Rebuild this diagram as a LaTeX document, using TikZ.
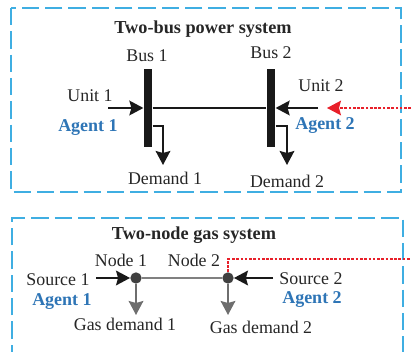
\documentclass[tikz,border=0pt]{standalone}
\usepackage{fontspec}
\setmainfont{Liberation Serif}
\usepackage{xcolor}
\usetikzlibrary{arrows.meta, calc}
\definecolor{frameblue}{HTML}{3FAEE2}
\definecolor{agentblue}{HTML}{2E75B6}
\definecolor{linkred}{HTML}{E8202A}
\definecolor{pipegray}{HTML}{6E6E6E}

\begin{document}
\begin{tikzpicture}[x=0.75pt, y=-0.75pt]
    \tikzset{
        system frame/.style={
                draw=frameblue, line width=1.3pt, dash pattern=on 13pt off 4.5pt
            },
        bus bar/.style={
                draw=none, fill=black!90, minimum width=6.5pt, minimum height=59pt, inner sep=0pt
            },
        gas node/.style={
                circle, fill=black!75, minimum size=8.5pt, inner sep=0pt
            },
        label text/.style={
                font=\fontsize{13.4}{15}\selectfont, text=black!85, inner sep=0pt, yshift=-0.75pt
            },
        title text/.style={
                font=\fontsize{13.7}{15}\selectfont\bfseries, text=black!85, inner sep=0pt, yshift=-0.75pt
            },
        agent text/.style={
                font=\fontsize{13.5}{15}\selectfont\bfseries, text=agentblue, inner sep=0pt, yshift=-0.75pt
            },
        power arrow/.style={
                -{Stealth[length=10.5pt, width=11pt, inset=1.5pt]}, line width=1.4pt, draw=black!90
            },
        gas arrow/.style={
                -{Stealth[length=10.5pt, width=11pt, inset=1.5pt]}, line width=1.4pt, draw=pipegray
            },
        link line/.style={
                draw=linkred, line width=1.2pt, dash pattern=on 2pt off 1.2pt
            }
    }
    \useasboundingbox (0,0) rectangle (411,352);

    % Power system
    \draw[system frame] (11,8) rectangle (401,192);
    \node[title text] (power title) at (203,28) {Two-bus power system};
    \node[bus bar] (bus1) at (148,108) {};
    \node[bus bar] (bus2) at (271,108) {};
    \node[label text] (bus1 label) at (147,55) {Bus 1};
    \node[label text] (bus2 label) at (271,52) {Bus 2};
    \node[label text] (unit1) at (90,95) {Unit 1};
    \node[label text] (unit2) at (321,85) {Unit 2};
    \node[agent text] (agent1) at (88,127) {Agent 1};
    \node[agent text] (agent2) at (325,125) {Agent 2};
    \node[label text] (demand1) at (165,177) {Demand 1};
    \node[label text] (demand2) at (287,180) {Demand 2};
    \coordinate (unit1 start) at (108,108);
    \coordinate (unit2 start) at (318,108);
    \coordinate (demand1 end) at (163,165);
    \coordinate (demand2 end) at (287,165);
    \coordinate (power link) at (411,108);
    \coordinate (power tip) at (327,108);

    \draw[line width=1.4pt, draw=black!90] (bus1) -- (bus2);
    \draw[power arrow] (unit1 start) -- (bus1.west |- unit1 start);
    \draw[power arrow] (unit2 start) -- (bus2.east |- unit2 start);
    \draw[power arrow] ($(bus1.east)+(0,18)$) -| (demand1 end);
    \draw[power arrow] ($(bus2.east)+(0,18)$) -| (demand2 end);
    \draw[link line, -{Stealth[length=10.5pt, width=11pt, inset=1.5pt]}] (power link) -- (power tip);

    % Gas system
    \draw[system frame] (12,362) -- (12,218) -- (403,218) -- (403,362);
    \node[title text] (gas title) at (194,234) {Two-node gas system};
    \node[gas node] (node1) at (136,278) {};
    \node[gas node] (node2) at (228,278) {};
    \node[label text] (node1 label) at (121,259) {Node 1};
    \node[label text] (node2 label) at (194,259) {Node 2};
    \node[label text] (source1) at (58,279) {Source 1};
    \node[label text] (source2) at (311,278) {Source 2};
    \node[agent text] (gas agent1) at (62,301) {Agent 1};
    \node[agent text] (gas agent2) at (312,299) {Agent 2};
    \node[label text] (gas demand1) at (125,323) {Gas demand 1};
    \node[label text] (gas demand2) at (261,326) {Gas demand 2};
    \coordinate (source1 start) at (96,278);
    \coordinate (source2 start) at (273,278);
    \coordinate (gas demand1 end) at (136,315);
    \coordinate (gas demand2 end) at (228,315);
    \coordinate (gas link) at (411,259);

    \draw[line width=1.6pt, draw=black!50] (node1) -- (node2);
    \draw[power arrow] (source1 start) -- (node1);
    \draw[power arrow] (source2 start) -- (node2);
    \draw[gas arrow] (node1) -- (gas demand1 end);
    \draw[gas arrow] (node2) -- (gas demand2 end);
    \draw[link line] (node2.north) |- (gas link);
\end{tikzpicture}
\end{document}
